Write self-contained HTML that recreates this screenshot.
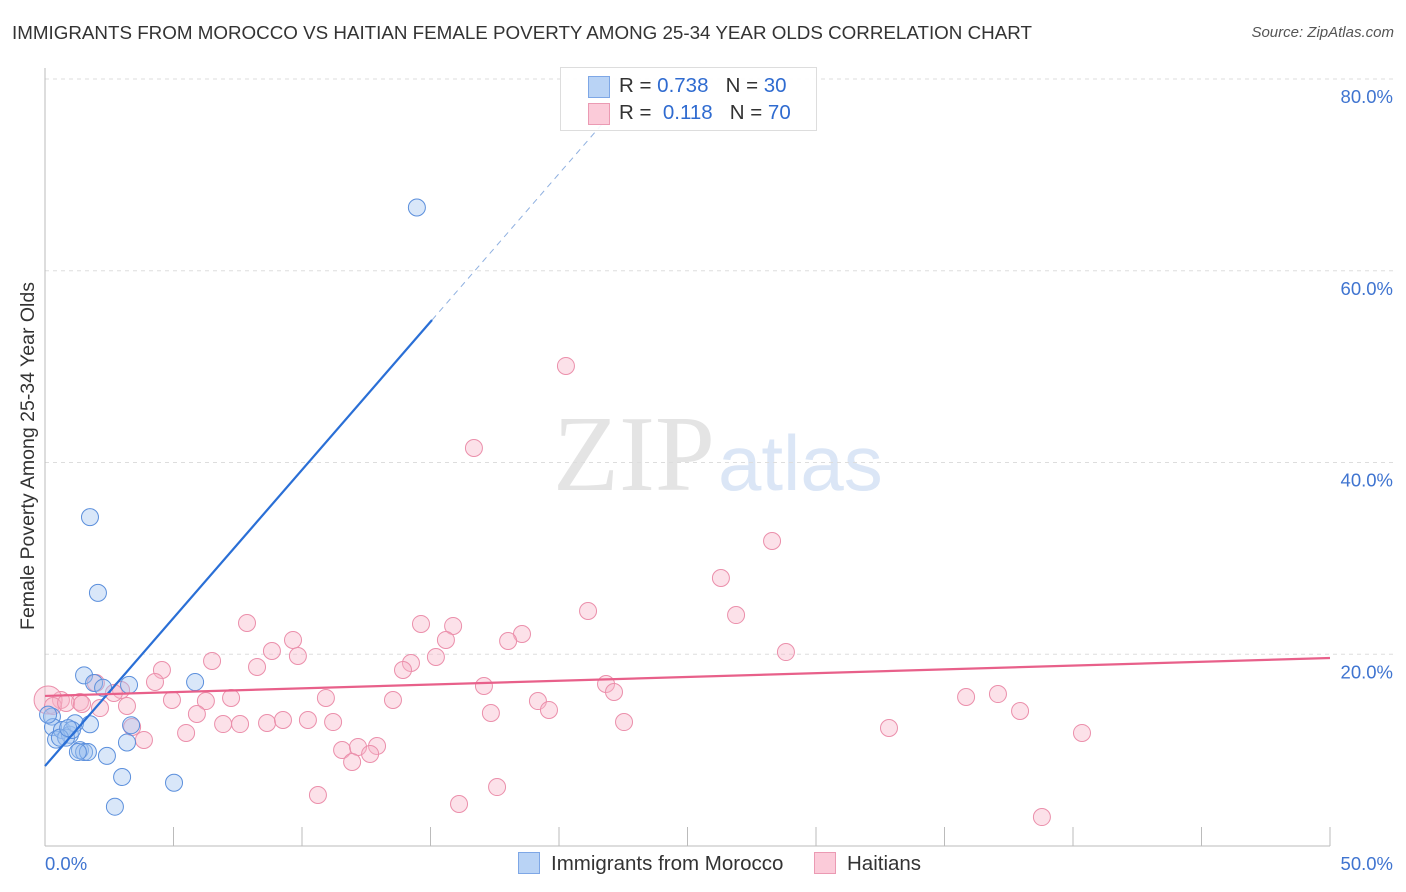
<!DOCTYPE html>
<html><head><meta charset="utf-8"><style>
body{margin:0;background:#fff;font-family:"Liberation Sans",sans-serif;}
#wrap{position:relative;width:1406px;height:892px;overflow:hidden;}
.t{position:absolute;white-space:nowrap;}
</style></head><body>
<div id="wrap">
<div class="t" style="left:12px;top:22px;font-size:18.8px;color:#333;">IMMIGRANTS FROM MOROCCO VS HAITIAN FEMALE POVERTY AMONG 25-34 YEAR OLDS CORRELATION CHART</div>
<div class="t" style="right:12px;top:24px;font-size:15px;color:#555;font-style:italic;">Source: ZipAtlas.com</div>
<svg id="svg" width="1406" height="892" style="position:absolute;left:0;top:0"></svg>
</div>
<script>
const xTicks=[0,5,10,15,20,25,30,35,40,45,50];
const yTicks=[20,40,60,80];
const yTickLabels=["20.0%","40.0%","60.0%","80.0%"];
const blueX=[14.47,1.75,2.06,1.52,1.91,2.26,3.27,5.84,0.27,0.31,0.43,0.66,0.97,1.17,1.75,0.82,1.05,1.36,1.52,1.67,3.35,3.19,2.41,3.0,2.72,5.02,0.12,0.58,1.28,0.9];
const blueY=[66.6,34.3,26.4,17.8,17.0,16.5,16.8,17.1,13.5,12.4,11.1,12.1,11.6,12.8,12.7,11.3,12.1,10.0,9.8,9.8,12.6,10.8,9.4,7.2,4.1,6.6,13.7,11.3,9.8,12.3];
const pinkX=[20.27,16.69,28.29,26.30,21.13,26.89,28.83,7.86,14.63,15.88,18.56,9.65,8.83,9.84,15.60,18.02,6.50,4.55,15.21,14.24,13.93,8.25,4.28,21.83,22.14,17.08,19.18,19.61,1.98,2.96,4.94,6.26,7.24,10.93,13.54,2.68,0.62,1.36,2.14,3.19,5.91,8.64,9.26,10.23,11.21,6.93,7.59,5.49,3.85,3.39,17.35,22.53,35.84,37.08,37.94,32.84,40.35,11.56,12.18,12.92,12.65,11.95,10.62,16.11,17.59,38.79,0.12,0.31,0.82,1.44];
const pinkY=[50.07,41.51,31.81,27.95,24.51,24.09,20.23,23.26,23.16,22.95,22.11,21.49,20.34,19.82,21.49,21.38,19.30,18.36,19.71,19.09,18.36,18.67,17.11,16.90,16.06,16.69,15.12,14.19,17.00,16.27,15.23,15.12,15.44,15.44,15.23,15.96,15.23,15.02,14.39,14.60,13.77,12.83,13.14,13.14,12.93,12.72,12.72,11.79,11.06,12.41,13.87,12.93,15.54,15.85,14.08,12.31,11.79,10.01,10.33,10.43,9.60,8.76,5.32,4.38,6.15,3.02,15.23,14.60,14.92,14.81];
const blueTrend=[8.34,3.089]; // intercept, slope
const pinkTrend=[15.65,0.0792];
const X=v=>45+v/50*1285;
const Y=v=>846-v/80*767;
const svg=document.getElementById('svg');
const NS='http://www.w3.org/2000/svg';
function mk(tag,at){const e=document.createElementNS(NS,tag);for(const k in at)e.setAttribute(k,at[k]);svg.appendChild(e);return e;}
let w=mk('text',{x:553,y:490,'font-size':108,fill:'#e4e4e4','font-family':'Liberation Serif,serif'});w.textContent='ZIP';


w=mk('text',{x:718,y:490,'font-size':78,fill:'#dbe6f6','font-family':'Liberation Sans,sans-serif'});w.textContent='atlas';


yTicks.forEach((t,i)=>{
 const g=mk('line',{x1:45,x2:1395,y1:Y(t),y2:Y(t),stroke:'#ddd','stroke-dasharray':'4,4'});
 
 
 const l=mk('text',{x:1393,y:Y(t)+24,'text-anchor':'end','font-size':18.5,fill:'#3f74d0'});l.textContent=yTickLabels[i];
 
 
});
let a=mk('line',{x1:45,x2:45,y1:68,y2:846,stroke:'#bbb'});


a=mk('line',{x1:45,x2:1330,y1:846,y2:846,stroke:'#bbb'});


xTicks.forEach(t=>{
 const e=mk('line',{x1:X(t),x2:X(t),y1:827,y2:846,stroke:'#bbb'});
 
 
});
let tl=mk('text',{x:45,y:870,'font-size':18.5,fill:'#3f74d0'});tl.textContent='0.0%';


tl=mk('text',{x:1393,y:870,'text-anchor':'end','font-size':18.5,fill:'#3f74d0'});tl.textContent='50.0%';


tl=mk('text',{x:34,y:456,'text-anchor':'middle','font-size':19.5,fill:'#333',transform:'rotate(-90 34 456)'});tl.textContent='Female Poverty Among 25-34 Year Olds';


pinkX.forEach((x,i)=>{
 const c=mk('circle',{cx:X(x),cy:Y(pinkY[i]),r:i==66?14:8.5,fill:'rgba(248,180,200,0.4)',stroke:'#eb8fab','stroke-width':1});
 
 
});
blueX.forEach((x,i)=>{
 const c=mk('circle',{cx:X(x),cy:Y(blueY[i]),r:8.5,fill:'rgba(160,195,240,0.4)',stroke:'#5b8fdc','stroke-width':1});
 
 
});
let ln=mk('line',{x1:X(0),y1:Y(blueTrend[0]),x2:X(15.06),y2:Y(blueTrend[0]+blueTrend[1]*15.06),stroke:'#2a6fd6','stroke-width':2.2});


ln=mk('line',{x1:X(15.06),y1:Y(blueTrend[0]+blueTrend[1]*15.06),x2:X(22),y2:Y(blueTrend[0]+blueTrend[1]*22),stroke:'#8fb0e0','stroke-width':1,'stroke-dasharray':'6,5'});


ln=mk('line',{x1:X(0),y1:Y(pinkTrend[0]),x2:X(50),y2:Y(pinkTrend[0]+pinkTrend[1]*50),stroke:'#e8608a','stroke-width':2.2});


</script>
<div class="t" style="left:560px;top:67px;width:255px;height:62px;border:1px solid #ddd;background:rgba(255,255,255,0.9);font-size:20.5px;">
 <div style="position:absolute;left:27px;top:8px;width:20px;height:20px;background:#b9d3f5;border:1px solid #7ea7e6;"></div>
 <div style="position:absolute;left:58px;top:6px;color:#333;">R = <span style="color:#2f6bd0">0.738</span>&nbsp;&nbsp;&nbsp;N = <span style="color:#2f6bd0">30</span></div>
 <div style="position:absolute;left:27px;top:35px;width:20px;height:20px;background:#fbcbd9;border:1px solid #eb9ab3;"></div>
 <div style="position:absolute;left:58px;top:33px;color:#333;">R = &nbsp;<span style="color:#2f6bd0">0.118</span>&nbsp;&nbsp;&nbsp;N = <span style="color:#2f6bd0">70</span></div>
</div>
<div class="t" style="left:518px;top:852px;font-size:20.5px;color:#333;"><span style="display:inline-block;width:20px;height:20px;background:#b9d3f5;border:1px solid #7ea7e6;vertical-align:-4px;margin-right:11px;"></span>Immigrants from Morocco</div>
<div class="t" style="left:814px;top:852px;font-size:20.5px;color:#333;"><span style="display:inline-block;width:20px;height:20px;background:#fbcbd9;border:1px solid #eb9ab3;vertical-align:-4px;margin-right:11px;"></span>Haitians</div>
</body></html>
